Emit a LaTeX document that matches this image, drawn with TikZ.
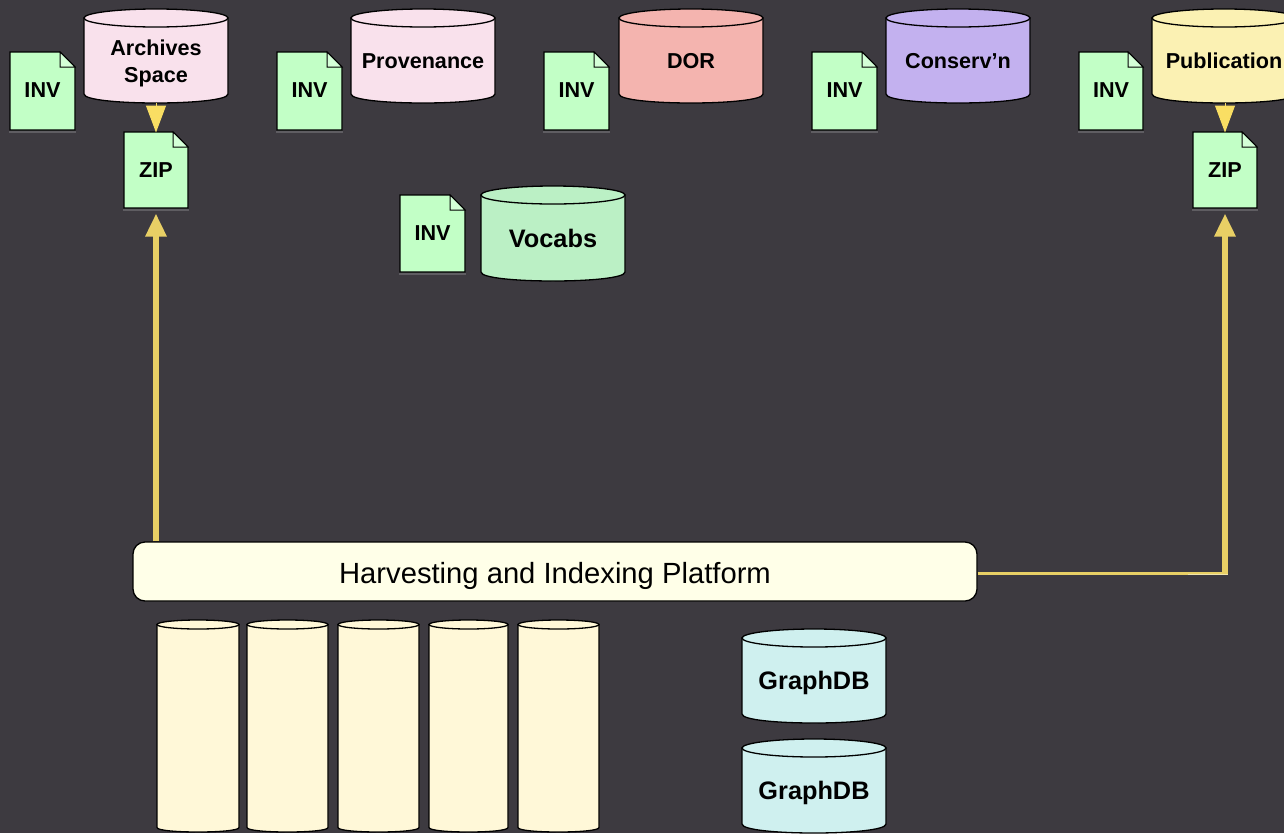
\documentclass[tikz,border=0pt]{standalone}
\usepackage{fontspec}
\setmainfont{Liberation Sans}
\usetikzlibrary{arrows.meta}
\definecolor{bgc}{HTML}{3D3A40}
\definecolor{pinkc}{HTML}{F9E1EC}
\definecolor{dorc}{HTML}{F4B4AF}
\definecolor{consc}{HTML}{C3B1EF}
\definecolor{pubc}{HTML}{FBF1B3}
\definecolor{vocc}{HTML}{BBF0C5}
\definecolor{graphc}{HTML}{CFF0EF}
\definecolor{docc}{HTML}{C2FFC6}
\definecolor{platc}{HTML}{FFFFE8}
\definecolor{tallc}{HTML}{FFF8D8}
\definecolor{arrowa}{HTML}{F9DE63}
\definecolor{arrowb}{HTML}{E8CF65}
\definecolor{shadowc}{HTML}{5F5D62}
\tikzset{
  outline/.style={draw=black,line width=1.3pt},
  lbl/.style={inner sep=0pt,outer sep=0pt,align=center,text=black},
  smalllbl/.style={lbl,font=\bfseries\fontsize{21.6}{27}\selectfont},
  biglbl/.style={lbl,font=\bfseries\fontsize{25.3}{29}\selectfont},
  flow/.style={color=arrowb,line width=6pt,-{Triangle[width=20pt,length=23pt]}},
  feed/.style={color=arrowa,line width=1pt,-{Triangle[width=20pt,length=27pt]}},
  thinflow/.style={color=arrowb,line width=3pt}
}
\def\lblshift{5}
\def\docoff{-0.5}
% name, x0, x1, y0, y1, ry, fill, label style, text
\newcommand{\cylshape}[9]{%
  \pgfmathsetmacro{\cxm}{(#2+#3)/2}%
  \pgfmathsetmacro{\crx}{(#3-#2)/2}%
  \pgfmathsetmacro{\ctop}{#4+#6}%
  \pgfmathsetmacro{\cbot}{#5-#6}%
  \pgfmathsetmacro{\cbez}{#5-#6+1.333*#6}%
  \pgfmathsetmacro{\cmid}{(#4+#5)/2+\lblshift}%
  \pgfmathsetmacro{\chgt}{#5-#4-2*\lblshift}%
  \path[outline,fill=#7] (#2,\ctop) -- (#2,\cbot) .. controls (#2,\cbez) and (#3,\cbez) .. (#3,\cbot) -- (#3,\ctop) -- cycle;
  \path[outline,fill=#7] (\cxm,\ctop) ellipse [x radius=\crx,y radius=#6];
  \node[#8,minimum width={(#3-#2)*1pt},minimum height={\chgt*1pt}] (#1) at (\cxm,\cmid) {#9};%
}
% name, x0, x1, y0, y1, text
\newcommand{\docshape}[6]{%
  \pgfmathsetmacro{\dxm}{(#2+#3)/2}%
  \pgfmathsetmacro{\dym}{(#4+#5)/2+\docoff}%
  \pgfmathsetmacro{\dfx}{#3-15}%
  \pgfmathsetmacro{\dfy}{#4+15}%
  \draw[shadowc,line width=2pt] (#2-1,#5+2) -- (#3+1,#5+2);
  \path[outline,fill=docc] (#2,#4) -- (\dfx,#4) -- (#3,\dfy) -- (#3,#5) -- (#2,#5) -- cycle;
  \path[outline,line width=1pt,fill=docc!70!white] (\dfx,#4) -- (\dfx,\dfy) -- (#3,\dfy) -- cycle;
  \node[smalllbl,minimum width={(#3-#2)*1pt},minimum height={(#5-#4)*1pt}] (#1) at (\dxm,\dym) {#6};%
}
\begin{document}
\begin{tikzpicture}[x=1pt,y=-1pt]
\path[use as bounding box,clip] (0,0) rectangle (1284,833);
\fill[bgc] (0,0) rectangle (1284,833);

% top row
\docshape{invA}{10}{75}{52}{130}{INV}
\def\lblshift{7}
\cylshape{arch}{84}{228}{9}{103}{9}{pinkc}{smalllbl}{Archives\\Space}
\def\lblshift{5}
\docshape{invB}{277}{342}{52}{130}{INV}
\cylshape{prov}{351}{495}{9}{103}{9}{pinkc}{smalllbl}{Provenance}
\docshape{invC}{544}{609}{52}{130}{INV}
\cylshape{dor}{619}{763}{9}{103}{9}{dorc}{smalllbl}{DOR}
\docshape{invD}{812}{877}{52}{130}{INV}
\cylshape{cons}{886}{1030}{9}{103}{9}{consc}{smalllbl}{Conserv’n}
\docshape{invE}{1079}{1143}{52}{130}{INV}
\cylshape{pub}{1152}{1296}{9}{103}{9}{pubc}{smalllbl}{Publication}

% vocabs
\docshape{invV}{400}{465}{195}{272}{INV}
\cylshape{voc}{481}{625}{186}{281}{9}{vocc}{biglbl}{Vocabs}

% zip files
\def\docoff{0.5}
\docshape{zipA}{124}{188}{132}{208}{ZIP}
\docshape{zipB}{1193}{1257}{132}{208}{ZIP}

% platform
\node[draw=black,line width=1.3pt,fill=platc,rounded corners=12pt,minimum width=844pt,minimum height=59pt,inner sep=0pt,font=\fontsize{29.2}{34}\selectfont] (plat) at (555,571.5) {\raisebox{-11.5pt}[0pt][0pt]{Harvesting and Indexing Platform}};

% tall cylinders
\def\lblshift{0}
\cylshape{tallA}{157}{239}{620}{832}{4.5}{tallc}{lbl}{}
\cylshape{tallB}{247}{328}{620}{832}{4.5}{tallc}{lbl}{}
\cylshape{tallC}{338}{419}{620}{832}{4.5}{tallc}{lbl}{}
\cylshape{tallD}{429}{508}{620}{832}{4.5}{tallc}{lbl}{}
\cylshape{tallE}{518}{599}{620}{832}{4.5}{tallc}{lbl}{}

% graph databases
\def\lblshift{7}
\cylshape{graphA}{742}{886}{629}{723}{9}{graphc}{biglbl}{GraphDB}
\cylshape{graphB}{742}{886}{739}{833}{9}{graphc}{biglbl}{GraphDB}

% connectors
\draw[feed] (arch.south) -- (zipA.north);
\draw[feed] (pub.south -| zipB.north) -- (zipB.north);
\draw[flow,shorten >=5pt] (zipA.south |- plat.north) -- (zipA.south);
\coordinate (platOut) at ([yshift=-1.5pt]plat.east);
\coordinate (corner) at (platOut -| zipB.south);
\coordinate (paleStart) at ([xshift=-37pt,yshift=-1.5pt]corner);
\coordinate (paleEnd) at ([xshift=3pt,yshift=-1.5pt]corner);
\draw[thinflow] (platOut) -- (corner);
\draw[color=arrowb!55!white,line width=1.5pt] (paleStart) -- (paleEnd);
\draw[flow,shorten >=5pt] ([yshift=-1pt]corner) -- (zipB.south);
\end{tikzpicture}
\end{document}
